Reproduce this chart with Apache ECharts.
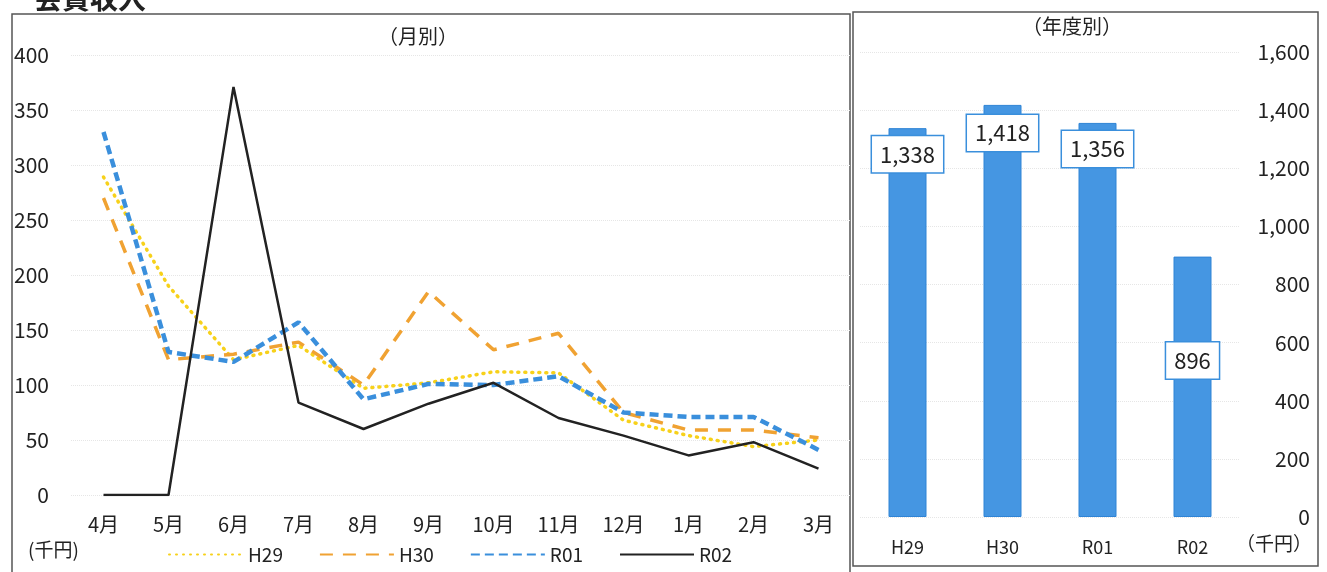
<!DOCTYPE html>
<html>
<head>
<meta charset="utf-8">
<script src="https://cdn.jsdelivr.net/npm/echarts@6/dist/echarts.min.js"></script>
<style>
  html, body { margin: 0; padding: 0; background: #fff; }
  #grafico { width: 1327px; height: 572px; }
</style>
</head>
<body>
<div id="grafico"></div>
<script>
// datos mensuales (千円)
var meses = ['4月', '5月', '6月', '7月', '8月', '9月', '10月', '11月', '12月', '1月', '2月', '3月'];
var h29 = [289, 190, 123, 136, 97, 102, 112, 111, 68, 54, 44, 50];
var h30 = [270, 123, 128, 139, 100, 185, 132, 147, 75, 59, 59, 52];
var r01 = [330, 130, 121, 157, 87, 101, 100, 108, 75, 71, 71, 41];
var r02 = [0, 0, 371, 84, 60, 83, 102, 70, 54, 36, 48, 24];

// datos anuales
var anios = ['H29', 'H30', 'R01', 'R02'];
var totales = [1338, 1418, 1356, 896];

// desplazamiento de las etiquetas (solo estilo)
var bajadaEtiqueta = [8, 10, 8, 86];

var fuente = '"Noto Sans CJK JP", "Noto Sans", sans-serif';

function serieLinea(nombre, datos, color, tipo, ancho, remate) {
  return {
    name: nombre,
    type: 'line',
    data: datos,
    symbol: 'none',
    xAxisIndex: 0,
    yAxisIndex: 0,
    lineStyle: { color: color, type: tipo, width: ancho, cap: remate },
    itemStyle: { color: color }
  };
}

function conComas(v) {
  return String(v).replace(/\B(?=(\d{3})+(?!\d))/g, ',');
}

document.addEventListener('DOMContentLoaded', function () {
  var chart = echarts.init(document.getElementById('grafico'));

  var barras = totales.map(function (v, i) {
    return { value: v, label: { offset: [0, bajadaEtiqueta[i]] } };
  });

  chart.setOption({
    animation: false,
    textStyle: { fontFamily: fuente },
    graphic: [
      { type: 'rect', shape: { x: 12, y: 14, width: 838, height: 570 },
        style: { fill: 'none', stroke: '#555', lineWidth: 1.5 } },
      { type: 'rect', shape: { x: 853, y: 12, width: 465, height: 554 },
        style: { fill: 'none', stroke: '#555', lineWidth: 1.5 } },
      { type: 'text', left: 34, top: -16,
        style: { text: '会費収入', font: 'bold 28px ' + fuente, fill: '#222' } },
      { type: 'text', left: 378, top: 26,
        style: { text: '（月別）', font: '20px ' + fuente, fill: '#222' } },
      { type: 'text', left: 1022, top: 16,
        style: { text: '（年度別）', font: '20px ' + fuente, fill: '#222' } },
      { type: 'text', left: 28, top: 540,
        style: { text: '(千円)', font: '19px ' + fuente, fill: '#222' } },
      { type: 'text', left: 1236, top: 534,
        style: { text: '（千円）', font: '19px ' + fuente, fill: '#222' } }
    ],
    legend: {
      left: 163,
      top: 540,
      itemWidth: 74,
      itemHeight: 10,
      itemGap: 36,
      itemStyle: { color: 'transparent', borderWidth: 0 },
      textStyle: { fontSize: 19, color: '#222', fontFamily: fuente },
      data: ['H29', 'H30', 'R01', 'R02']
    },
    grid: [
      { left: 71, right: 476, top: 55, bottom: 77 },
      { left: 860, right: 87, top: 52, bottom: 55 }
    ],
    xAxis: [
      {
        gridIndex: 0,
        type: 'category',
        data: meses,
        axisLine: { show: false },
        axisTick: { show: false },
        axisLabel: { margin: 19, fontSize: 20, color: '#222' }
      },
      {
        gridIndex: 1,
        type: 'category',
        data: anios,
        axisLine: { show: false },
        axisTick: { show: false },
        axisLabel: { margin: 21, fontSize: 18, color: '#222' }
      }
    ],
    yAxis: [
      {
        gridIndex: 0,
        type: 'value',
        min: 0,
        max: 400,
        interval: 50,
        axisLabel: { margin: 22, fontSize: 21, color: '#222' },
        splitLine: { lineStyle: { color: '#e6e6e6', type: 'dotted' } }
      },
      {
        gridIndex: 1,
        type: 'value',
        position: 'right',
        min: 0,
        max: 1600,
        interval: 200,
        axisLabel: {
          align: 'right', margin: 70, fontSize: 21, color: '#222',
          formatter: conComas
        },
        splitLine: { lineStyle: { color: '#e6e6e6', type: 'dotted' } }
      }
    ],
    series: [
      serieLinea('H29', h29, '#f7d11a', [1, 6], 3.5, 'round'),
      serieLinea('H30', h30, '#f0a232', [13, 10], 3.5, 'butt'),
      serieLinea('R01', r01, '#3a8fdc', [9, 5], 4.5, 'butt'),
      serieLinea('R02', r02, '#222222', 'solid', 2.5, 'butt'),
      {
        name: '年度別',
        type: 'bar',
        xAxisIndex: 1,
        yAxisIndex: 1,
        data: barras,
        barWidth: 38,
        itemStyle: { color: '#4596e2', borderColor: '#2f84d6', borderWidth: 1 },
        label: {
          show: true,
          position: 'insideTop',
          distance: 0,
          formatter: function (p) { return conComas(p.value); },
          fontSize: 22,
          color: '#222',
          backgroundColor: '#fff',
          borderColor: '#3a8fdc',
          borderWidth: 1.5,
          padding: [7, 8]
        }
      }
    ]
  });
});
</script>
</body>
</html>
